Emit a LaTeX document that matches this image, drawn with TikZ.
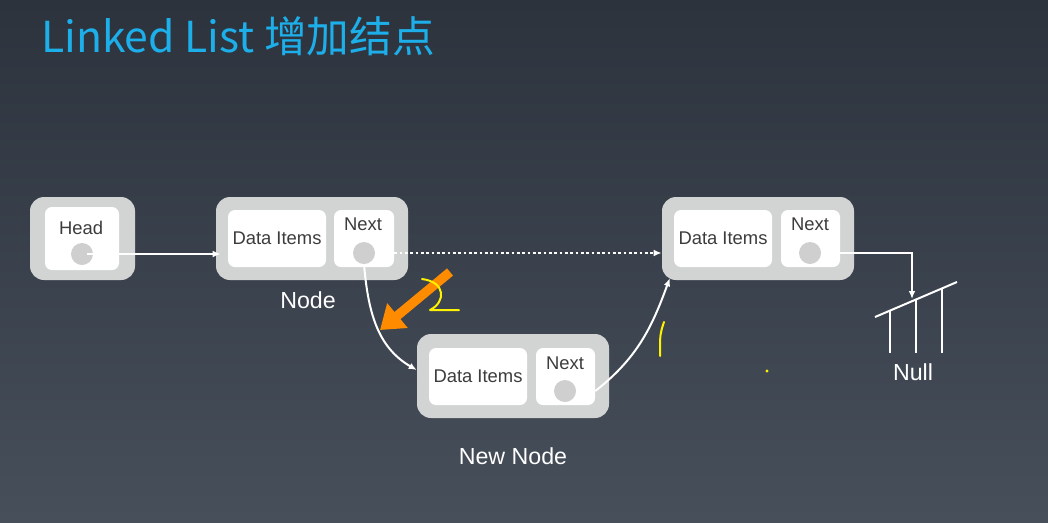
\documentclass[tikz,border=0pt]{standalone}
\usepackage{fontspec}
\setmainfont{Liberation Sans}
\newfontfamily\cjk{Noto Sans CJK SC}
\usetikzlibrary{arrows.meta}
\newdimen\px \px=0.75pt
\definecolor{bgtop}{HTML}{2C333D}
\definecolor{bgbot}{HTML}{474F5B}
\definecolor{boxgray}{HTML}{D2D3D3}
\definecolor{dotgray}{HTML}{CFCFCF}
\definecolor{txtgray}{HTML}{3C3C3C}
\definecolor{titleblue}{HTML}{1DAFEA}
\definecolor{markorange}{HTML}{FF8C00}
\definecolor{markyellow}{HTML}{FFF200}
\tikzset{
  outerbox/.style={fill=boxgray, rounded corners=14\px, minimum width=#1, minimum height=83\px, inner sep=0pt},
  innerbox/.style={fill=white, rounded corners=7\px, minimum width=#1, minimum height=57\px, inner sep=0pt,
    text=txtgray, font=\fontsize{13.8}{16}\selectfont},
  boxtext/.style={text=txtgray, inner sep=0pt, font=\fontsize{13.8}{16}\selectfont},
  dot/.style={circle, fill=dotgray, minimum size=22\px, inner sep=0pt},
  label/.style={text=white, inner sep=0pt, font=\fontsize{17.4}{20}\selectfont},
  wire/.style={white, line width=1.5pt, -{Latex[length=6pt,width=5pt]}},
  nullline/.style={white, line width=1.5pt},
  marker/.style={markorange, line width=7pt, -{Triangle[length=17pt,width=23pt]}},
  scribble/.style={markyellow, line width=1.5pt, line cap=round, line join=round}
}
\begin{document}
\begin{tikzpicture}[x=0.75pt,y=-0.75pt]
    \shade[top color=bgtop,bottom color=bgbot] (0,0) rectangle (1048,522);
    \useasboundingbox (0,0) rectangle (1048,522);

    \node[anchor=base west, inner sep=0pt, text=titleblue, font=\cjk\fontsize{32}{38}\selectfont] (title) at (41,52) {Linked List 增加结点};

    \node[outerbox=105\px] (headout) at (82.5,238.5) {};
    \node[innerbox=74\px, minimum height=63\px] (headin) at (82,238.5) {};
    \node[boxtext] (headtxt) at (81,228) {Head};
    \node[dot] (hdot) at (82,254) {};

    \node[outerbox=192\px] (n1out) at (312,238.5) {};
    \node[innerbox=98\px] (n1data) at (277,238.5) {Data Items};
    \node[innerbox=60\px] (n1next) at (364,238.5) {};
    \node[boxtext] (n1nexttxt) at (363,224) {Next};
    \node[dot] (n1dot) at (364,253) {};
    \node[label] (n1lbl) at (308,300) {Node};

    \node[outerbox=192\px] (n3out) at (758,238.5) {};
    \node[innerbox=98\px] (n3data) at (723,238.5) {Data Items};
    \node[innerbox=59\px] (n3next) at (810.5,238.5) {};
    \node[boxtext] (n3nexttxt) at (810,224) {Next};
    \node[dot] (n3dot) at (810,253) {};

    \node[outerbox=192\px, minimum height=84\px] (nnout) at (513,376) {};
    \node[innerbox=98\px] (nndata) at (478,376.5) {Data Items};
    \node[innerbox=59\px] (nnnext) at (565.5,376.5) {};
    \node[boxtext] (nnnexttxt) at (565,363) {Next};
    \node[dot] (nndot) at (565,391) {};
    \node[label] (nnlbl) at (513,456) {New Node};

    \coordinate (gnd) at (912,299);
    \coordinate (gndl) at (875,317);
    \coordinate (gndr) at (957,282);
    \node[label] (null) at (913,372) {Null};

    \draw[wire] ([xshift=5\px]hdot.center) -- ([xshift=5\px]hdot.center -| n1out.west);
    \draw[wire, dash pattern=on 2pt off 2pt] (n1dot -| n1next.east) -- (n1dot -| n3out.west);
    \draw[wire] (n1dot.south) to[out=-85, in=150] ([yshift=6\px]nnout.west);
    \draw[wire] (nndot -| nnnext.east) to[out=38, in=-110] ([shift={(8\px,2\px)}]n3out.south west);
    \draw[wire] (n3dot -| n3next.east) -| (gnd);

    \draw[nullline] (gndl) -- (gndr);
    \draw[nullline] (890,310.6) -- (890,353);
    \draw[nullline] (916,299.5) -- (916,353);
    \draw[nullline] (942,288.4) -- (942,353);

    \coordinate (mk1) at (450,272);
    \coordinate (mk2) at (380,330);
    \draw[marker] (mk1) -- (mk2);

    \draw[scribble] (422,279) .. controls (446,282) and (446,302) .. (430,310) -- (459,310);
    \draw[scribble] (664,322) .. controls (660,334) .. (660,356);
    \fill[markyellow] (767,371) circle (1.2pt);
\end{tikzpicture}
\end{document}
